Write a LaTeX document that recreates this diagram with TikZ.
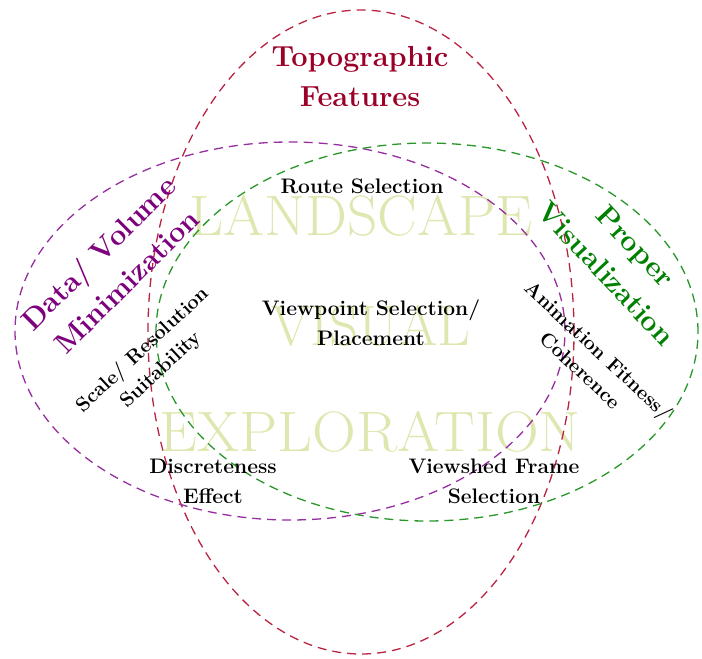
\documentclass[tikz,border=0pt]{standalone}
\usepackage{fontspec}
\definecolor{redline}{RGB}{185,35,65}
\definecolor{redtext}{RGB}{155,0,40}
\definecolor{purpline}{RGB}{150,45,160}
\definecolor{purptext}{RGB}{125,0,125}
\definecolor{greenline}{RGB}{40,150,40}
\definecolor{greentext}{RGB}{0,128,0}
\definecolor{wmark}{RGB}{222,231,175}
\tikzset{
  setline/.style={line width=1.3pt, dash pattern=on 9pt off 6pt},
  wm/.style={text=wmark, font=\fontsize{57}{60}\selectfont, inner sep=0pt},
  lbl/.style={align=center, font=\bfseries\fontsize{21}{30}\selectfont, text=black, inner sep=0pt},
  rlbl/.style={align=center, font=\bfseries\fontsize{20}{27}\selectfont, text=black, inner sep=0pt},
  title/.style={align=center, font=\bfseries\fontsize{29}{40}\selectfont, inner sep=0pt},
}
\begin{document}
\begin{tikzpicture}[x=1pt,y=-1pt]
\useasboundingbox (0,0) rectangle (702,659);
% watermark
\node[wm, xscale=1.04] (wl) at (361,216) {LANDSCAPE};
\node[wm] (wv) at (371,326) {VISUAL};
\node[wm, xscale=1.065] (we) at (370,432) {EXPLORATION};
% ellipses
\draw[setline, redline] (361,332) ellipse [x radius=213pt, y radius=322pt];
\draw[setline, purpline] (290,331) ellipse [x radius=275pt, y radius=189pt];
\draw[setline, greenline] (427,332) ellipse [x radius=271pt, y radius=189pt];
% titles
\node[title, text=redtext] (topo) at (360,77) {Topographic\\Features};
\node[title, text=purptext, rotate=45] (data) at (112,267) {Data/ Volume\\Minimization};
\node[title, text=greentext, rotate=-47] (prop) at (621,260) {Proper\\Visualization};
% inner labels
\node[lbl] (route) at (362,186) {Route Selection};
\node[lbl] (view) at (371,323) {Viewpoint Selection/\\Placement};
\node[lbl] (disc) at (213,481) {Discreteness\\Effect};
\node[lbl] (vsf) at (494,481) {Viewshed Frame\\Selection};
\node[rlbl, rotate=43] (scale) at (152,360) {Scale/ Resolution\\Suitability};
\node[rlbl, rotate=-43] (anim) at (590,360) {Animation Fitness/\\Coherence};
\end{tikzpicture}
\end{document}
